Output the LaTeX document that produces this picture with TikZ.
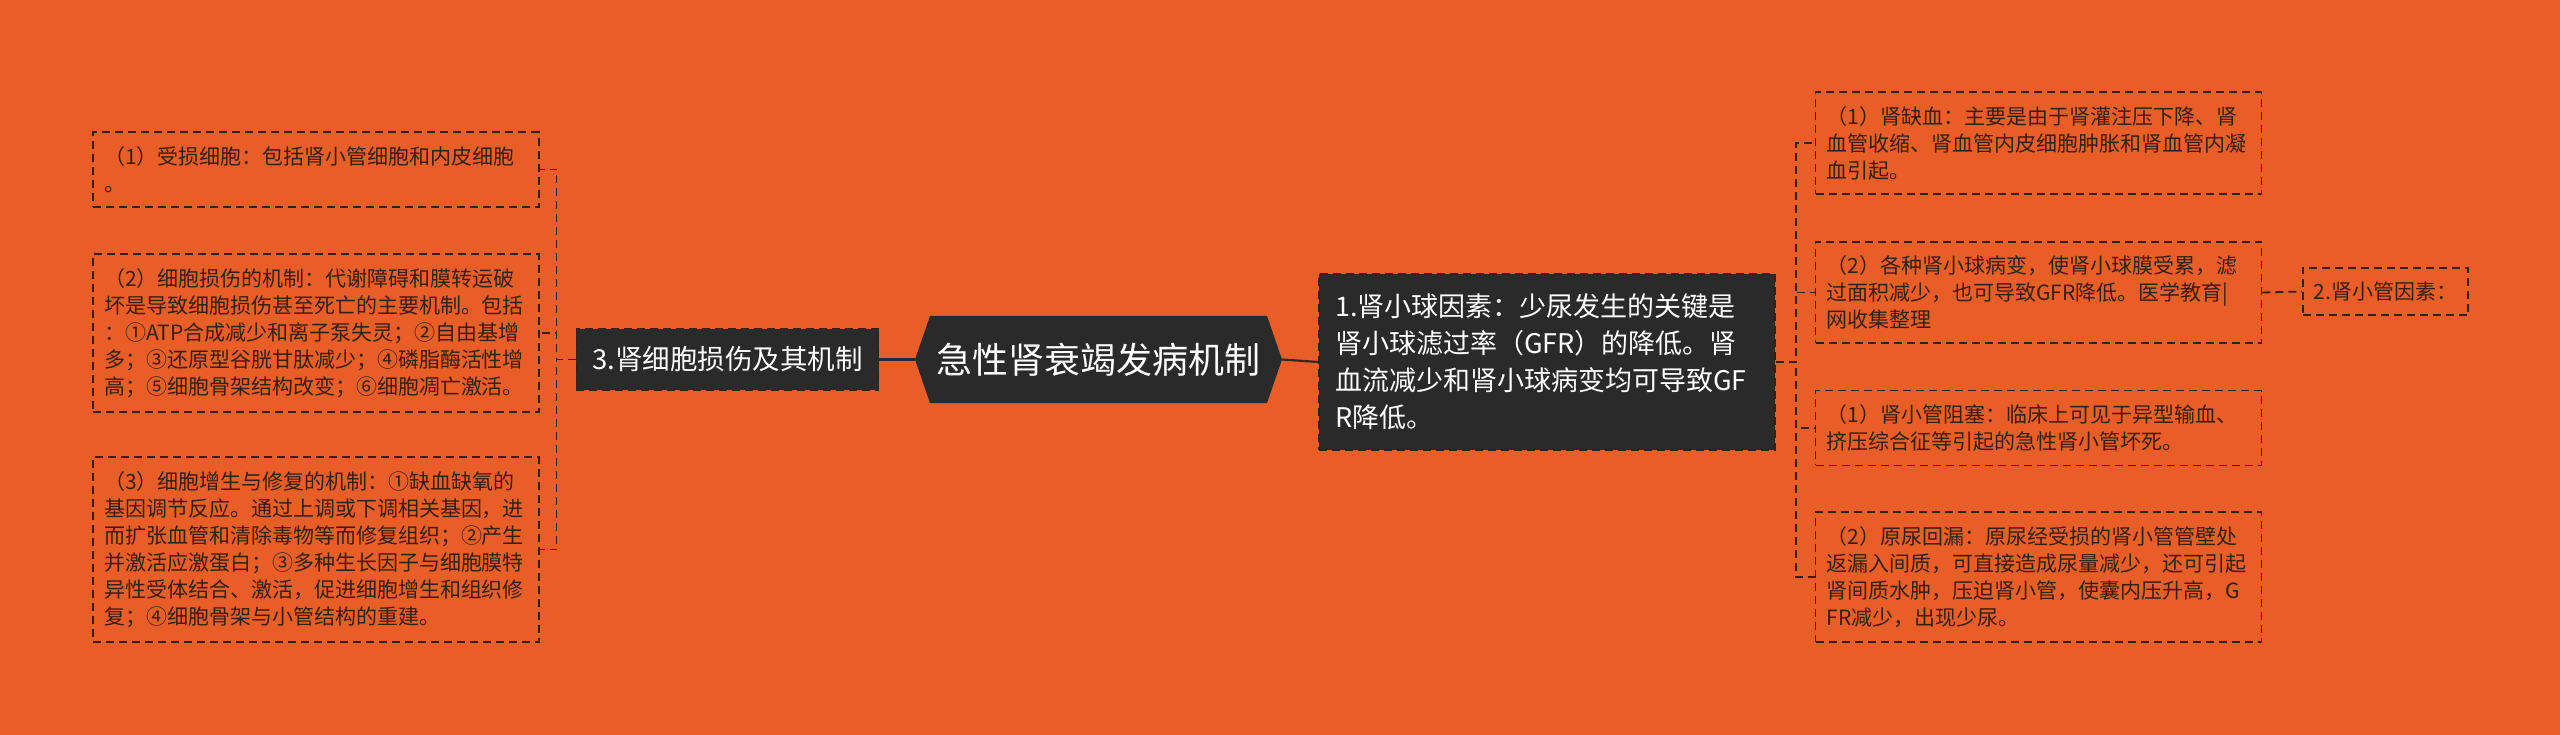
\documentclass[tikz,border=0pt]{standalone}
\usepackage{fontspec}
\setmainfont{Noto Sans CJK SC}
\usetikzlibrary{shapes.symbols}
\definecolor{bgorange}{HTML}{E95E27}
\definecolor{boxdark}{HTML}{2A2A2A}
\definecolor{inkbrown}{HTML}{33200F}
\tikzset{
  leafbox/.style={draw=inkbrown,line width=1.8pt,dash pattern=on 8pt off 5pt,
    text=inkbrown,align=left,text width=424pt,inner xsep=11pt,inner ysep=14pt,
    font=\fontsize{21}{27}\selectfont},
  tagbox/.style={draw=inkbrown,line width=1.8pt,dash pattern=on 8pt off 5pt,
    text=inkbrown,inner xsep=11pt,inner ysep=14pt,font=\fontsize{21}{27}\selectfont},
  darkbox/.style={fill=boxdark,draw=inkbrown,line width=1.5pt,dash pattern=on 8pt off 5pt,
    text=white,align=left},
  rootbox/.style={shape=signal,signal to=west and east,signal pointer angle=142,
    fill=boxdark,text=white,minimum width=367pt,minimum height=87pt,
    font=\fontsize{36}{40}\selectfont},
  link/.style={draw=boxdark,line width=2.2pt},
  bracket/.style={draw=inkbrown,line width=1.8pt,dash pattern=on 8pt off 5pt}
}
\begin{document}
\begin{tikzpicture}[x=1pt,y=-1pt]
  \fill[bgorange] (0,0) rectangle (2560,735);
  \useasboundingbox (0,0) rectangle (2560,735);

  \node[rootbox] (root) at (1098.5,359.5) {急性肾衰竭发病机制};

  % left branch
  \node[darkbox,inner xsep=16pt,inner ysep=18pt,font=\fontsize{27.5}{33}\selectfont] (cell) at (727.5,359.5) {3.肾细胞损伤及其机制};
  \node[leafbox] (cellA) at (316,169.5) {（1）受损细胞：包括肾小管细胞和内皮细胞\\。};
  \node[leafbox] (cellB) at (316,333) {（2）细胞损伤的机制：代谢障碍和膜转运破\\坏是导致细胞损伤甚至死亡的主要机制。包括\\：①ATP合成减少和离子泵失灵；②自由基增\\多；③还原型谷胱甘肽减少；④磷脂酶活性增\\高；⑤细胞骨架结构改变；⑥细胞凋亡激活。};
  \node[leafbox] (cellC) at (316,549.5) {（3）细胞增生与修复的机制：①缺血缺氧的\\基因调节反应。通过上调或下调相关基因，进\\而扩张血管和清除毒物等而修复组织；②产生\\并激活应激蛋白；③多种生长因子与细胞膜特\\异性受体结合、激活，促进细胞增生和组织修\\复；④细胞骨架与小管结构的重建。};

  % right branch
  \node[darkbox,text width=424pt,inner xsep=16pt,inner ysep=20pt,font=\fontsize{27}{37}\selectfont] (glom) at (1547,362) {1.肾小球因素：少尿发生的关键是\\肾小球滤过率（GFR）的降低。肾\\血流减少和肾小球病变均可导致GF\\R降低。};
  \node[leafbox] (glomA) at (2038.5,143) {（1）肾缺血：主要是由于肾灌注压下降、肾\\血管收缩、肾血管内皮细胞肿胀和肾血管内凝\\血引起。};
  \node[leafbox] (glomB) at (2038.5,292.5) {（2）各种肾小球病变，使肾小球膜受累，滤\\过面积减少，也可导致GFR降低。医学教育|\\网收集整理};
  \node[tagbox] (tub) at (2385.5,291.5) {2.肾小管因素：};
  \node[leafbox] (tubA) at (2038.5,428) {（1）肾小管阻塞：临床上可见于异型输血、\\挤压综合征等引起的急性肾小管坏死。};
  \node[leafbox] (tubB) at (2038.5,577) {（2）原尿回漏：原尿经受损的肾小管管壁处\\返漏入间质，可直接造成尿量减少，还可引起\\肾间质水肿，压迫肾小管，使囊内压升高，G\\FR减少，出现少尿。};

  \draw[link] (root.west) -- (cell.east);
  \draw[link] (root.east) -- (glom.west);
  \foreach \leaf in {cellA,cellB,cellC}
    \draw[bracket] (cell.west) -- ++(-19,0) |- (\leaf.east);
  \foreach \leaf in {glomA,glomB,tubA,tubB}
    \draw[bracket] (glom.east) -- ++(20,0) |- (\leaf.west);
  \draw[bracket] (glomB.east) -- (tub.west);
\end{tikzpicture}
\end{document}
